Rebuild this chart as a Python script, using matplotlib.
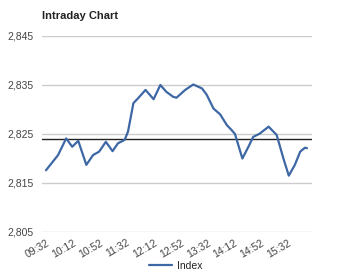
import matplotlib
matplotlib.use("Agg")
import matplotlib.pyplot as plt

plt.rcParams['font.family'] = ['Liberation Sans', 'DejaVu Sans']

times = ["09:32", "09:50", "10:02", "10:11", "10:20", "10:32", "10:42", "10:51",
         "11:01", "11:11", "11:19", "11:29", "11:34", "11:42", "11:49", "12:00",
         "12:12", "12:22", "12:31", "12:41", "12:46", "12:59", "13:11", "13:24",
         "13:31", "13:41", "13:51", "14:01", "14:08", "14:13", "14:24", "14:33",
         "14:40", "14:50", "15:03", "15:15", "15:25", "15:33", "15:42", "15:50",
         "15:57", "16:00"]
values = [2817.6, 2820.7, 2824.1, 2822.4, 2823.6, 2818.7, 2820.7, 2821.4,
          2823.4, 2821.5, 2823.1, 2823.8, 2825.5, 2831.3, 2832.3, 2834.0,
          2832.1, 2835.0, 2833.6, 2832.6, 2832.4, 2834.0, 2835.1, 2834.3,
          2833.0, 2830.2, 2829.0, 2826.8, 2825.8, 2825.0, 2820.0, 2822.4,
          2824.4, 2825.1, 2826.5, 2824.8, 2820.0, 2816.5, 2818.7, 2821.4,
          2822.2, 2822.1]
ref_value = 2824.0
tick_labels = ["09:32", "10:12", "10:52", "11:32", "12:12", "12:52", "13:32",
               "14:12", "14:52", "15:32"]
y_ticks = [2805, 2815, 2825, 2835, 2845]
title = "Intraday Chart"
series_name = "Index"

def to_min(t):
    h, m = t.split(":")
    return int(h) * 60 + int(m) - (9 * 60 + 32)

x = [to_min(t) for t in times]
xt = [to_min(t) for t in tick_labels]

W, H = 351, 272
fig = plt.figure(figsize=(W / 100, H / 100), dpi=100)
ax = fig.add_axes([42 / W, 1 - 232 / H, (312 - 42) / W, (232 - 36) / H])

for yv in y_ticks:
    ax.axhline(yv, color='#cccccc', lw=1.0, zorder=1)
ax.axhline(ref_value, color='#222222', lw=1.0, zorder=2)
line, = ax.plot(x, values, color='#3d67a5', lw=1.6, solid_joinstyle='round',
                solid_capstyle='round', zorder=3)

ax.set_xlim(-5.9, 395.5)
ax.set_ylim(2805, 2845)
ax.set_yticks(y_ticks)
ax.set_yticklabels([f"{v:,}" for v in y_ticks], fontsize=7.5, color='#444444')
ax.set_xticks(xt)
ax.set_xticklabels(tick_labels, fontsize=7.5, color='#444444', rotation=30,
                   ha='right', rotation_mode='anchor')
ax.tick_params(length=0, pad=6)
ax.tick_params(axis='x', pad=4)
for s in ax.spines.values():
    s.set_visible(False)

fig.text(42 / W, 1 - 16 / H, title, fontsize=8, fontweight='bold',
         color='#222222', va='center', ha='left')

leg = fig.legend([line], [series_name], loc='center', bbox_to_anchor=(176 / W, 1 - 266 / H),
                 frameon=False, fontsize=7.5, handlelength=2.2, handletextpad=0.5,
                 labelcolor='#222222')

fig.savefig("out.png", dpi=100)
